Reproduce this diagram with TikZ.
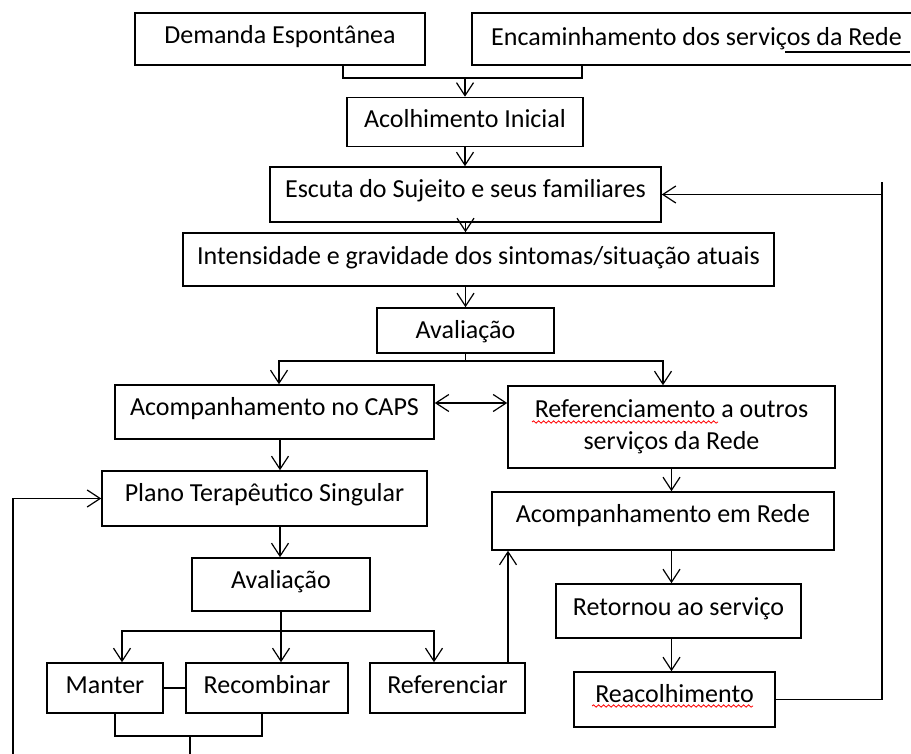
\documentclass[tikz,border=0pt]{standalone}
\usepackage{fontspec}
\setmainfont{Carlito}
\usetikzlibrary{calc,positioning,arrows.meta,decorations.pathmorphing}

\begin{document}
\begin{tikzpicture}[x=0.5pt,y=-0.5pt,line width=0.75pt,
	>={Straight Barb[length=6.5pt,width=8.5pt,line width=0.6pt]},
	box/.style={draw,inner sep=0pt,align=center,font=\fontsize{13}{16}\selectfont},
	sz/.style 2 args={minimum width={#1*0.5pt},minimum height={#2*0.5pt}},
	td/.style={text height=9pt,text depth=#1},
	wavy/.style={red,line width=0.4pt,decorate,decoration={snake,amplitude=0.6pt,segment length=2.5pt}}]
\useasboundingbox (0,0) rectangle (911,754);
\clip (0,0) rectangle (911,754);
\node[box,sz={290}{52},td=4pt] (dem) at (280,39) {Demanda Espontânea};
\node[box,sz={449}{52},td=2.5pt] (enc) at (696.5,39) {Encaminhamento dos serviços da Rede};
\node[box,sz={236}{49},td=3.5pt] (aco) at (465,122) {Acolhimento Inicial};
\node[box,sz={391}{55},td=5.5pt] (esc) at (465.5,194.5) {Escuta do Sujeito e seus familiares};
\node[box,sz={591}{53},td=3.5pt] (int) at (478.5,259.5) {Intensidade e gravidade dos sintomas/situação atuais};
\node[box,sz={177}{45},td=1pt] (av1) at (465.5,330.5) {Avaliação};
\node[box,sz={319}{54},td=5.5pt] (caps) at (274.5,412) {Acompanhamento no CAPS};
\node[box,sz={327}{82}] (ref) at (671.5,427) {Referenciamento a outros\\serviços da Rede};
\node[box,sz={325}{55},td=6pt] (pts) at (264.5,498.5) {Plano Terapêutico Singular};
\node[box,sz={178}{53},td=5.5pt] (av2) at (281,584.5) {Avaliação};
\node[box,sz={116}{50},td=4pt] (man) at (105,688) {Manter};
\node[box,sz={162}{50},td=4pt] (rec) at (267,688) {Recombinar};
\node[box,sz={155}{50},td=4pt] (refc) at (447.5,688) {Referenciar};
\node[box,sz={342}{58},td=7.5pt] (acr) at (663,521) {Acompanhamento em Rede};
\node[box,sz={245}{54},td=5pt] (ret) at (678.5,611) {Retornou ao serviço};
\node[box,sz={201}{55},td=6pt] (rea) at (674.5,699.5) {Reacolhimento};

\coordinate (j1) at (465,78);
\draw ($(dem.south)+(63,0)$) |- (j1) -| ($(enc.south)+(-114.5,0)$);
\draw[->] (j1) -- (aco.north);
\draw[->] (aco.south) -- (aco.south |- esc.north);
\draw[->] (esc.south) -- (esc.south |- int.north);
\draw[->] (av1.north |- int.south) -- (av1.north);
\coordinate (j2) at (465.5,361);
\draw (av1.south) -- (j2);
\draw[->] (j2) -| ($(caps.north)+(4.5,0)$);
\draw[->] (j2) -| ($(ref.north)+(-8.5,0)$);
\draw[<->] ($(caps.east)+(0,-9)$) -- ($(caps.east -| ref.west)+(0,-9)$);
\draw[->] ($(caps.south)+(5.5,0)$) coordinate (c1) -- (c1 |- pts.north);
\draw[->] (c1 |- pts.south) -- (c1 |- av2.north);
\coordinate (j3) at (281,631);
\draw (av2.south) -- (j3);
\draw[->] (j3) -| ($(man.north)+(17,0)$);
\draw[->] (j3) -- (j3 |- rec.north);
\draw[->] (j3) -| ($(refc.north)+(-13.5,0)$);
\draw (man.east) -- (rec.west);
\coordinate (j4) at (190,736);
\draw ($(man.south)+(10,0)$) |- (j4) -| ($(rec.south)+(-5,0)$);
\coordinate (k1) at (13,775);
\draw[->] (j4) |- (k1) |- (pts.west);
\draw[->] ($(refc.north)+(60.5,0)$) coordinate (r1) -- (r1 |- acr.south);
\draw[->] (ref.south) -- (ref.south |- acr.north);
\draw[->] (ref.south |- acr.south) -- (ref.south |- ret.north);
\draw[->] (ref.south |- ret.south) -- (ref.south |- rea.north);
\coordinate (k2) at (882,182);
\draw (rea.east) -| (k2);
\draw[->] (esc.east -| k2) -- (esc.east);
\draw ($(enc.center)+(88.5,13)$) -- ++(125,0);
\draw[wavy] ($(ref.center)+(-139.5,-5)$) -- ++(186,0);
\draw[wavy] ($(rea.center)+(-82.5,6.5)$) -- ++(161,0);
\end{tikzpicture}
\end{document}
